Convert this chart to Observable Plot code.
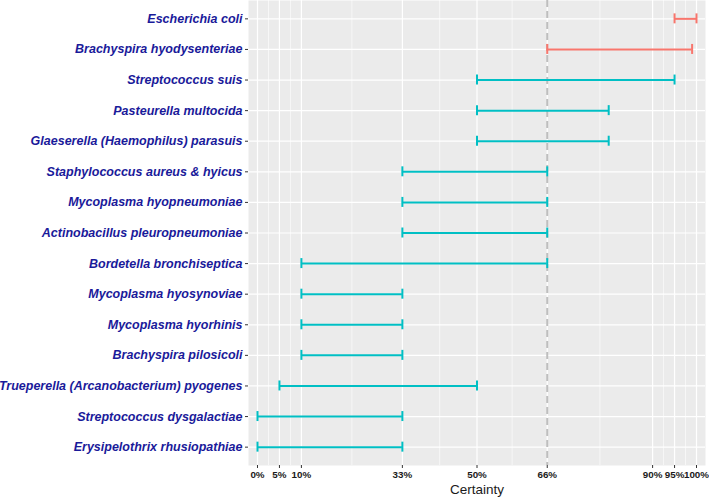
<!DOCTYPE html>
<html><head><meta charset="utf-8">
<script src="https://cdn.jsdelivr.net/npm/d3@7"></script>
<script src="https://cdn.jsdelivr.net/npm/@observablehq/plot@0.6"></script>
<style>body{margin:0;background:#fff;} #chart svg{display:block;}</style>
</head><body><div id="chart"></div>
<script>
const species = [
  "Escherichia coli",
  "Brachyspira hyodysenteriae",
  "Streptococcus suis",
  "Pasteurella multocida",
  "Glaeserella (Haemophilus) parasuis",
  "Staphylococcus aureus & hyicus",
  "Mycoplasma hyopneumoniae",
  "Actinobacillus pleuropneumoniae",
  "Bordetella bronchiseptica",
  "Mycoplasma hyosynoviae",
  "Mycoplasma hyorhinis",
  "Brachyspira pilosicoli",
  "Trueperella (Arcanobacterium) pyogenes",
  "Streptococcus dysgalactiae",
  "Erysipelothrix rhusiopathiae"
];
const lower = [0.95, 0.66, 0.50, 0.50, 0.50, 0.33, 0.33, 0.33, 0.10, 0.10, 0.10, 0.10, 0.05, 0.00, 0.00];
const upper = [1.00, 0.99, 0.95, 0.80, 0.80, 0.66, 0.66, 0.66, 0.66, 0.33, 0.33, 0.33, 0.50, 0.33, 0.33];
const group = ["high", "high", "low", "low", "low", "low", "low", "low", "low", "low", "low", "low", "low", "low", "low"];
const tickValues = [0, 0.05, 0.10, 0.33, 0.50, 0.66, 0.90, 0.95, 1.00];
const tickLabels = ["0%", "5%", "10%", "33%", "50%", "66%", "90%", "95%", "100%"];
const threshold = [0.66];
const xTitle = "Certainty";

const data = species.map((s, i) => ({species: s, lo: lower[i], hi: upper[i], group: group[i]}));
const minor = d3.pairs(tickValues).map(([a, b]) => (a + b) / 2);
const labelOf = new Map(tickValues.map((v, i) => [v, tickLabels[i]]));

const H = 497, mb = 32, mt = 0;
const step = (H - mb - mt) / 15.2;
const capInset = (step - 10) / 2;

const chart = Plot.plot({
  width: 709, height: H,
  marginLeft: 248, marginRight: 4, marginTop: mt, marginBottom: mb,
  style: {fontFamily: "'Liberation Sans', Arial, sans-serif", background: "#fff", color: "#000"},
  x: {domain: [-0.0205, 1.0205]},
  y: {domain: species, paddingInner: 0, paddingOuter: 0.1, round: false},
  color: {domain: ["high", "low"], range: ["#F8766D", "#00BFC4"]},
  marks: [
    Plot.frame({fill: "#EBEBEB", stroke: "none"}),
    Plot.ruleX(minor, {stroke: "#fff", strokeWidth: 0.6}),
    Plot.ruleX(tickValues, {stroke: "#fff", strokeWidth: 1.2}),
    Plot.ruleY(species, {y: d => d, stroke: "#fff", strokeWidth: 1.2}),
    Plot.ruleX(threshold, {stroke: "#BEBEBE", strokeWidth: 2, strokeDasharray: "7,4"}),
    Plot.ruleY(data, {y: "species", x1: "lo", x2: "hi", stroke: "group", strokeWidth: 2}),
    Plot.tickX(data, {y: "species", x: "lo", stroke: "group", strokeWidth: 2, insetTop: capInset, insetBottom: capInset}),
    Plot.tickX(data, {y: "species", x: "hi", stroke: "group", strokeWidth: 2, insetTop: capInset, insetBottom: capInset}),
    Plot.axisX({ticks: tickValues, tickFormat: d => labelOf.get(d), tickSize: 3, tickPadding: 3,
      stroke: "#333", fill: "#1a1a1a", fontWeight: "bold", fontSize: 9.8, label: null}),
    Plot.axisY({tickSize: 3, tickPadding: 3, stroke: "#333", fill: "#1a1a9a",
      fontStyle: "italic", fontWeight: "bold", fontSize: 12.5, label: null}),
    Plot.text([xTitle], {frameAnchor: "bottom", dy: 24, lineAnchor: "middle", fontSize: 13.5, fill: "#1a1a1a"})
  ]
});
document.getElementById("chart").appendChild(chart);
</script>
</body></html>
